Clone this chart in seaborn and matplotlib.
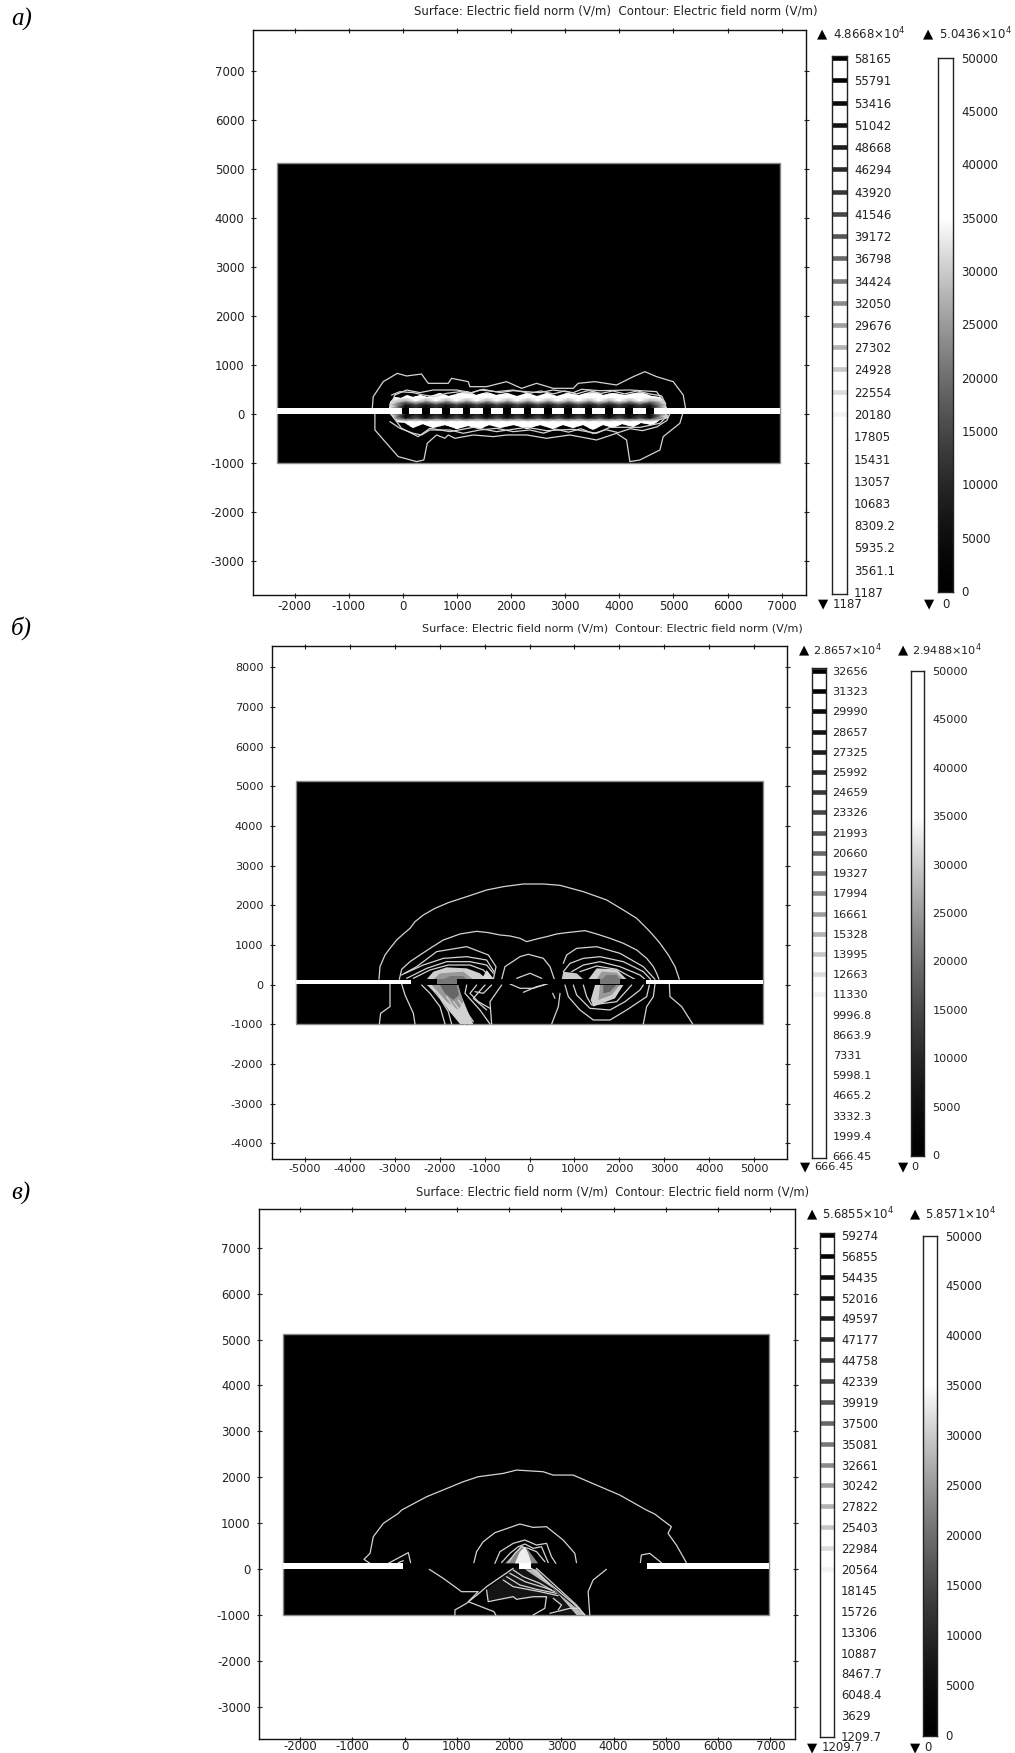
import numpy as np
import pandas as pd
import matplotlib
matplotlib.use("Agg")
import matplotlib.pyplot as plt
import matplotlib.colors as mcolors
import seaborn as sns
from matplotlib.patches import Polygon

sns.set_style("ticks")
plt.rcParams["font.family"] = ["DejaVu Sans"]
plt.rcParams["axes.unicode_minus"] = False
plt.rcParams["mathtext.default"] = "regular"

W, H = 1015, 1753
TITLE = "Surface: Electric field norm (V/m)  Contour: Electric field norm (V/m)"

# colour legend values, top to bottom
levels_a = ["58165", "55791", "53416", "51042", "48668", "46294", "43920", "41546", "39172",
            "36798", "34424", "32050", "29676", "27302", "24928", "22554", "20180", "17805",
            "15431", "13057", "10683", "8309.2", "5935.2", "3561.1", "1187"]
levels_b = ["32656", "31323", "29990", "28657", "27325", "25992", "24659", "23326", "21993",
            "20660", "19327", "17994", "16661", "15328", "13995", "12663", "11330", "9996.8",
            "8663.9", "7331", "5998.1", "4665.2", "3332.3", "1999.4", "666.45"]
levels_c = ["59274", "56855", "54435", "52016", "49597", "47177", "44758", "42339", "39919",
            "37500", "35081", "32661", "30242", "27822", "25403", "22984", "20564", "18145",
            "15726", "13306", "10887", "8467.7", "6048.4", "3629", "1209.7"]
surface_ticks = [50000, 45000, 40000, 35000, 30000, 25000, 20000, 15000, 10000, 5000, 0]

# slot metal segments for panel a
metal_left_a = [-24, 353, 729, 1105, 1481, 1857, 2233, 2609, 2985, 3361, 3737, 4113, 4497]
metal_width_a = 142

# field near the slot in panel a (V/m)
field_y_a = [-420, -300, -220, -150, -80, 0, 120, 200, 270, 340, 420, 480]
field_metal_a = [20000, 40000, 50000, 38000, 5000, 0, 0, 7000, 26000, 50000, 50000, 20000]
field_gap_a = [20000, 40000, 50000, 42000, 16000, 9000, 9000, 16000, 36000, 50000, 50000, 20000]
field_edge_a = [10000, 25000, 40000, 42000, 42000, 45000, 45000, 45000, 42000, 40000, 25000, 10000]

glow_a = [(-260, 116), (-240, 240), (-147, 354), (-40, 330), (68, 390), (190, 350), (314, 395), (450, 340), (684, 420),
          (860, 370), (1177, 470), (1350, 390), (1546, 440), (1730, 380), (1916, 430), (2100, 370), (2286, 420), (2470, 360),
          (2655, 420), (2850, 370), (3025, 430), (3250, 380), (3518, 470), (3700, 390), (3887, 430), (4100, 380),
          (4380, 440), (4600, 370), (4750, 340), (4850, 220), (4880, 116), (4880, 0), (4900, -88), (4750, -130), (4626, -220),
          (4400, -190), (4257, -260), (4050, -200), (3887, -290), (3700, -230), (3518, -320), (3330, -230), (3148, -290),
          (2960, -220), (2778, -300), (2530, -230), (2286, -300), (2050, -230), (1793, -280), (1600, -220),
          (1423, -300), (1200, -240), (992, -310), (780, -220), (561, -280), (380, -200), (191, -290), (40, -190), (-117, -160),
          (-240, 0)]

# contour lines
lines_a = [
    [(-566, 116), (-548, 354), (-363, 660), (-104, 830), (68, 776), (345, 816), (468, 626), (838, 626),
     (900, 728), (1208, 660), (1238, 558), (1546, 558), (1916, 660), (2193, 524), (2470, 626), (2778, 524),
     (3148, 524), (3240, 626), (3548, 660), (3949, 592), (4257, 762), (4472, 864), (4688, 762), (4996, 660),
     (5181, 388), (5224, 116)],
    [(-517, 0), (-517, -326), (-302, -598), (-86, -870), (253, -972), (388, -938), (450, -598), (622, -428),
     (776, -496), (838, -428), (961, -496), (1300, -428), (1670, -462), (1916, -428), (2286, -428),
     (2655, -496), (3086, -428), (3579, -530), (3949, -394), (4134, -530), (4195, -972), (4380, -938),
     (4750, -734), (4811, -462), (5119, -190), (5169, 0)],
    [(-240, 150), (-147, 388), (68, 490), (314, 436), (561, 490), (992, 490), (1269, 436), (1485, 504),
     (1793, 436), (2039, 476), (2532, 436), (2778, 490), (3148, 436), (3302, 504), (3641, 476), (4195, 490),
     (4688, 456), (4842, 218)],
    [(-209, -20), (-24, -292), (284, -462), (499, -292), (869, -360), (1300, -272), (1731, -360), (2286, -272),
     (2655, -340), (3148, -312), (3579, -394), (3826, -272), (4380, -272), (4750, -190), (4904, -20)],
    [(-209, 388), (-55, 456), (191, 436), (376, 388), (591, 354), (807, 422), (1053, 456), (1238, 422), (1423, 490),
     (1731, 456), (2039, 490), (2347, 422), (2550, 470), (2780, 410), (2990, 470), (3210, 410), (3430, 480), (3660, 420),
     (3880, 470), (4100, 410), (4330, 470), (4560, 410), (4780, 370), (4860, 200)],
    [(-240, -156), (-55, -292), (191, -394), (345, -428), (499, -326), (869, -326), (1115, -394), (1423, -326),
     (1731, -292), (2039, -360), (2347, -326), (2600, -390), (2830, -310), (3060, -370), (3290, -300), (3520, -400),
     (3750, -320), (3980, -380), (4200, -300), (4430, -340), (4700, -260), (4880, -130), (4930, -10)],
]

fills_b = [
    ([(-2292, -10), (-1624, -10), (-1513, -304), (-1327, -808), (-1253, -993), (-1550, -993), (-1810, -640), (-2070, -220)], "#d2d2d2"),
    ([(-2181, -10), (-1587, -10), (-1476, -430), (-1587, -640), (-1847, -430)], "#999999"),
    ([(-1995, -10), (-1624, -10), (-1572, -262), (-1698, -388), (-1884, -220)], "#666666"),
    ([(-2292, 133), (-2144, 326), (-1847, 435), (-1401, 410), (-1105, 284), (-956, 133)], "#cfcfcf"),
    ([(-2144, 133), (-1995, 284), (-1476, 326), (-1253, 133)], "#999999"),
    ([(-1921, 133), (-1773, 217), (-1476, 217), (-1401, 133)], "#777777"),
    ([(-1067, 133), (-956, 368), (-793, 133)], "#dddddd"),
    ([(1308, 133), (1494, 410), (1939, 385), (2162, 133)], "#cfcfcf"),
    ([(1494, 133), (1605, 326), (1939, 301), (2088, 133)], "#999999"),
    ([(1605, 133), (1716, 242), (1939, 242), (2013, 133)], "#777777"),
    ([(714, 133), (751, 326), (1048, 284), (1197, 133)], "#cccccc"),
    ([(1457, -10), (2088, -10), (1902, -346), (1419, -556), (1360, -388)], "#cfcfcf"),
    ([(1568, -10), (2013, -10), (1828, -262), (1531, -388)], "#999999"),
    ([(1642, -10), (1939, -10), (1791, -178), (1642, -220)], "#666666"),
]
lines_b = [
    [(-3354, 134), (-3332, 453), (-3220, 747), (-3109, 915), (-2960, 1125), (-2812, 1276), (-2663, 1419), (-2552, 1587),
     (-2366, 1755), (-2107, 1923), (-1810, 2066), (-1401, 2217), (-956, 2385), (-585, 2469), (-139, 2536), (306, 2536),
     (677, 2503), (1197, 2343), (1717, 2133), (2088, 1881), (2385, 1671), (2645, 1377), (2793, 1192), (2905, 1041),
     (3090, 747), (3239, 453), (3335, 134)],
    [(-3109, 16), (-3109, -555), (-3317, -723), (-3346, -992)],
    [(3112, 16), (3127, -303), (3387, -555), (3632, -992)],
    [(-2901, 134), (-2849, 386), (-2663, 579), (-2441, 747), (-2181, 940), (-1921, 1125), (-1550, 1276), (-1179, 1343),
     (-919, 1310), (-659, 1251), (-436, 1226), (-213, 1167), (-65, 1083), (158, 1150), (380, 1209), (603, 1276), (826, 1310),
     (1234, 1360), (1494, 1276), (1791, 1167), (2088, 1041), (2385, 873), (2607, 663), (2756, 453), (2830, 285), (2882, 134)],
    [(-2849, 15), (-2775, -262), (-2589, -724), (-2552, -993)],
    [(2793, 16), (2756, -303), (2607, -555), (2533, -992)],
    [(-2849, 243), (-2515, 453), (-2069, 831), (-1401, 957), (-919, 747), (-748, 453), (-807, 134)],
    [(751, 536), (825, 746), (1048, 914), (1494, 956), (2013, 788), (2533, 452), (2793, 133)],
    [(-2775, 284), (-2367, 494), (-1921, 662), (-1401, 704), (-956, 620), (-793, 326)],
    [(-2738, 158), (-2292, 410), (-1847, 578), (-1327, 578), (-956, 494), (-808, 284)],
    [(-2589, 158), (-2218, 368), (-1810, 494), (-1327, 494), (-1030, 368), (-845, 133)],
    [(751, 326), (900, 536), (1197, 662), (1568, 704), (2088, 578), (2533, 326), (2696, 133)],
    [(937, 326), (1197, 494), (1568, 578), (2013, 452), (2459, 242), (2570, 133)],
    [(1122, 326), (1494, 469), (1939, 385), (2347, 133)],
    [(-622, 134), (-548, 453), (-213, 705), (-31, 764), (306, 663), (455, 453), (551, 134)],
    [(-288, 159), (9, 285), (269, 159)],
    [(-436, 16), (-213, -93), (84, -93), (380, 16)],
    [(-139, -194), (158, -51), (395, 16)],
    [(514, -219), (566, -345)],
    [(-2404, -10), (-2218, -220), (-1995, -556), (-1884, -993)],
    [(-2218, -52), (-1995, -346), (-1810, -682), (-1736, -993)],
    [(-1401, -10), (-1439, -220), (-1105, -640), (-882, -993)],
    [(-1179, -10), (-1327, -220), (-1142, -430), (-882, -598)],
    [(-993, -10), (-1253, -346), (-956, -640)],
    [(-845, -10), (-1030, -220), (-1216, -178)],
    [(-622, -10), (-882, -430), (-845, -993)],
    [(-1847, -304), (-1439, -993)],
    [(-1698, -430), (-1327, -993)],
    [(-1587, -388), (-1253, -934)],
    [(788, -10), (863, -304), (1122, -640), (1419, -892), (1791, -892), (2162, -640), (2607, -304), (2667, -10)],
    [(974, -10), (1048, -262), (1345, -598), (1791, -640), (2125, -430), (2459, -136), (2533, -10)],
    [(1197, -10), (1271, -304), (1382, -514), (1939, -430), (2273, -10)],
    [(677, -219), (640, -555), (492, -992)],
]
slot_gray_b = [(-2070, -1624), (1568, 2013)]

fills_c = [
    ([(1568, -457), (2077, 15), (2524, 15), (3448, -1001), (2938, -1001), (3002, -784), (2842, -638), (1568, -675)], "#141414"),
    ([(2300, -7), (2524, -7), (2938, -529), (3448, -1001), (3288, -1001), (2842, -420)], "#bbbbbb"),
    ([(1918, 124), (2109, 342), (2237, 523), (2364, 414), (2460, 269), (2555, 124)], "#888888"),
    ([(2109, 124), (2205, 378), (2301, 487), (2364, 342), (2428, 124)], "#eeeeee"),
]
lines_c = [
    [(-663, 124), (-778, 211), (-663, 342), (-600, 705), (-409, 995), (-122, 1213), (-58, 1286), (420, 1576),
     (1121, 1903), (1408, 2012), (1886, 2084), (2141, 2157), (2650, 2121), (2842, 2048), (3224, 2048),
     (3670, 1830), (4116, 1613), (4626, 1286), (4785, 1199), (5104, 923), (5040, 778), (5200, 524), (5391, 139)],
    [(-313, 124), (69, 357), (114, 139)],
    [(-122, 139), (-26, 182)],
    [(4511, 139), (4530, 306), (4690, 342), (4913, 139)],
    [(1325, 139), (1376, 378), (1503, 596), (1726, 792), (2204, 981), (2459, 908), (2714, 923), (3033, 632),
     (3256, 342), (3288, 139)],
    [(1727, 124), (1823, 378), (2077, 560), (2301, 632), (2524, 523), (2715, 560), (2810, 269), (2893, 124)],
    [(1854, 139), (2014, 342), (2173, 487), (2301, 545), (2460, 451), (2619, 487), (2747, 139)],
    [(1982, 139), (2109, 342), (2237, 487), (2364, 451), (2524, 378), (2683, 160)],
    [(471, -6), (739, -203), (1089, -493), (1408, -493), (1217, -711), (1707, -929), (1745, -1001)],
    [(962, -1001), (962, -892), (1185, -747), (1408, -544), (1567, -384), (2077, 15)],
    [(1567, -457), (1599, -711), (2077, -602), (2141, -660), (2460, -602), (2714, -602), (2682, -856), (2459, -1001)],
    [(2842, -638), (3002, -784), (2938, -892)],
    [(2779, -965), (3161, -856), (3352, -856)],
    [(2427, 15), (2842, -384), (3224, -747), (3447, -1001)],
    [(2523, 15), (2905, -384), (3288, -783), (3447, -1001)],
    [(3861, -6), (3606, -239), (3511, -493), (3543, -1001)],
    [(2077, -21), (2269, -166), (2587, -312), (2810, -457)],
    [(2014, -94), (2301, -275), (2715, -420), (2874, -493)],
    [(1950, -166), (2205, -348), (2524, -442), (2906, -529)],
    [(1886, -239), (2077, -384), (2587, -493), (2938, -580)],
]


def px_axes(fig, x0, x1, y0, y1):
    return fig.add_axes([x0 / W, 1 - y1 / H, (x1 - x0) / W, (y1 - y0) / H])


def draw_line(ax, pts, z=3):
    df = pd.DataFrame(pts, columns=["x", "y"])
    sns.lineplot(data=df, x="x", y="y", ax=ax, sort=False, estimator=None, color="#d4d4d4",
                 lw=0.9, legend=False, zorder=z)


def main_axes(fig, box, xlim, ylim, xticks, yticks, fs, xpad=1.5):
    ax = px_axes(fig, *box)
    ax.set_xlim(*xlim)
    ax.set_ylim(*ylim)
    ax.tick_params(direction="inout", length=3.6, width=0.8, top=True, right=True, labelsize=fs,
                   colors="#222222")
    ax.tick_params(axis="x", pad=xpad)
    ax.tick_params(axis="y", pad=4.5)
    for s in ax.spines.values():
        s.set_visible(True)
        s.set_linewidth(1.0)
        s.set_color("#111111")
    return ax


def finish_axes(ax, xticks, yticks):
    ax.set_xlabel("")
    ax.set_ylabel("")
    ax.set_xticks(xticks)
    ax.set_yticks(yticks)
    ax.set_xticklabels([str(v) for v in xticks])
    ax.set_yticklabels([str(v) for v in yticks])


def domain(ax, x0, x1):
    ax.fill([x0, x1, x1, x0], [-1000, -1000, 5130, 5130], facecolor="black",
            edgecolor="#8a8a8a", lw=1.0, zorder=1)


def slot(ax, x0, x1, z=5):
    ax.fill([x0, x1, x1, x0], [10, 10, 125, 125], color="white", lw=0, zorder=z)


def legend_bar(fig, box, labels, vpos, fs):
    # contour level legend, dark bands at the high values
    x0, x1, y0, y1 = box
    top_px, bottom_px = vpos
    ax = px_axes(fig, x0, x1, y0, y1)
    vals = [float(v) for v in labels]
    per_px = (vals[0] - vals[-1]) / (bottom_px - top_px)
    ax.set_ylim(vals[-1] - (y1 - bottom_px) * per_px, vals[0] + (top_px - y0) * per_px)
    ax.set_xlim(0, 1)
    for i, v in enumerate(vals):
        g = min(1.0, (i / 16.5) ** 1.5)
        ax.plot([0, 1], [v, v], color=str(g), lw=3.3, solid_capstyle="butt")
    ax.set_xticks([])
    ax.set_yticks(vals)
    ax.set_yticklabels(labels)
    ax.yaxis.tick_right()
    ax.tick_params(axis="y", direction="in", length=2.5, width=0.7, left=True, right=True,
                   labelsize=fs, colors="#222222", pad=5)
    for s in ax.spines.values():
        s.set_visible(True)
        s.set_linewidth(1.0)
        s.set_color("#222222")


def surface_bar(fig, box, fs):
    ax = px_axes(fig, *box)
    grad = np.linspace(50000, 0, 501).reshape(-1, 1)
    sns.heatmap(grad, ax=ax, cmap="gray", norm=mcolors.PowerNorm(1.5, vmin=0, vmax=35000), cbar=False,
                xticklabels=False, yticklabels=False)
    ax.set_xticks([])
    ax.set_yticks([(50000 - v) / 100 for v in surface_ticks])
    ax.set_yticklabels([str(v) for v in surface_ticks], rotation=0)
    ax.yaxis.tick_right()
    ax.tick_params(axis="y", direction="in", length=2.5, width=0.7, left=True, right=True,
                   labelsize=fs, colors="#222222", pad=6)
    for s in ax.spines.values():
        s.set_visible(True)
        s.set_linewidth(1.0)
        s.set_color("#222222")


def label_px(fig, x, y, s, **kw):
    kw.setdefault("color", "#222222")
    fig.text(x / W, 1 - y / H, s, va="center", **kw)


def annotations(fig, title_x, title_y, title_fs, fs, panel, panel_y, top_y, bottom_y, tops, bottoms):
    fig.text(title_x / W, 1 - title_y / H, TITLE, ha="center", va="center", fontsize=title_fs, color="#222222")
    fig.text(11 / W, 1 - panel_y / H, panel, family="Liberation Serif", style="italic", fontsize=18,
             va="center", color="black")
    for tx, x, s in tops:
        label_px(fig, tx, top_y, "\u25b2", ha="center", fontsize=9.5, color="black")
        label_px(fig, x, top_y, s, fontsize=fs)
    for tx, x, s in bottoms:
        label_px(fig, tx, bottom_y, "\u25bc", ha="center", fontsize=9.5, color="black")
        label_px(fig, x, bottom_y, s, fontsize=fs)


fig = plt.figure(figsize=(W / 100, H / 100), dpi=100)

# panel a
xt = list(range(-2000, 8000, 1000))
yt = list(range(-3000, 8000, 1000))
ax = main_axes(fig, (253, 806, 30, 595), (-2770, 7450), (-3694, 7837), xt, yt, 8.5)
domain(ax, -2330, 6970)
centers = []
for m in metal_left_a:
    centers += [m + metal_width_a / 2, m + metal_width_a + 117]
centers = [-280] + centers[:-1] + [4920]
z_rows = [field_edge_a]
for i in range(len(centers) - 2):
    z_rows.append(field_metal_a if i % 2 == 0 else field_gap_a)
z_rows.append(field_edge_a)
z_rows = np.array(z_rows).T
mesh = ax.pcolormesh(centers, field_y_a, z_rows, shading="gouraud", cmap="gray",
                     norm=mcolors.PowerNorm(1.5, vmin=0, vmax=35000), zorder=2)
mesh.set_clip_path(Polygon(glow_a, transform=ax.transData))
for pts in lines_a:
    draw_line(ax, pts)
slot(ax, -2330, 6970)
for m in metal_left_a:
    ax.fill([m, m + metal_width_a, m + metal_width_a, m], [10, 10, 125, 125], color="black", lw=0, zorder=6)
finish_axes(ax, xt, yt)
legend_bar(fig, (832, 847, 55.7, 594), levels_a, (58, 592), 8.5)
surface_bar(fig, (938.4, 953, 57.7, 592), 8.5)
annotations(fig, 616, 11, 8.5, 8.5, "\u0430)", 19, 34, 604,
            [(822, 833, "4.8668\u00d710$^{4}$"), (928, 939, "5.0436\u00d710$^{4}$")],
            [(823, 833, "1187"), (929, 942, "0")])

# panel b
xt = list(range(-5000, 6000, 1000))
yt = list(range(-4000, 9000, 1000))
ax = main_axes(fig, (272, 787, 645.7, 1159), (-5737, 5733), (-4396, 8543), xt, yt, 8.1)
domain(ax, -5200, 5200)
for pts, col in fills_b:
    ax.fill(*zip(*pts), color=col, lw=0, zorder=2)
for pts in lines_b:
    draw_line(ax, pts)
slot(ax, -5200, -2640)
slot(ax, 2600, 5200)
ax.fill([-2640, 2600, 2600, -2640], [10, 10, 130, 130], color="black", lw=0, zorder=4)
for g0, g1 in slot_gray_b:
    ax.fill([g0, g1, g1, g0], [10, 10, 130, 130], color="#777777", lw=0, zorder=5)
finish_axes(ax, xt, yt)
legend_bar(fig, (812, 825.6, 668, 1158), levels_b, (671, 1156), 8.1)
surface_bar(fig, (910.5, 924, 671, 1156), 8.1)
annotations(fig, 612, 628.6, 8.0, 8.1, "\u0431)", 628, 650, 1167,
            [(804, 813, "2.8657\u00d710$^{4}$"), (903, 912, "2.9488\u00d710$^{4}$")],
            [(805, 814, "666.45"), (903, 911, "0")])

# panel c
xt = list(range(-2000, 8000, 1000))
yt = list(range(-3000, 8000, 1000))
ax = main_axes(fig, (259.4, 795, 1209.3, 1739), (-2780, 7470), (-3704, 7840), xt, yt, 8.4, xpad=-1)
domain(ax, -2330, 6970)
for pts, col in fills_c:
    ax.fill(*zip(*pts), color=col, lw=0, zorder=2)
for pts in lines_c:
    draw_line(ax, pts)
slot(ax, -2330, -26)
slot(ax, 4639, 6970)
slot(ax, 2192, 2421)
finish_axes(ax, xt, yt)
legend_bar(fig, (820, 834, 1233, 1737), levels_c, (1235, 1736), 8.4)
surface_bar(fig, (923, 937, 1235.6, 1735.5), 8.4)
annotations(fig, 612.5, 1191.7, 8.3, 8.4, "\u0432)", 1193, 1213.7, 1747.5,
            [(812, 822, "5.6855\u00d710$^{4}$"), (915, 925, "5.8571\u00d710$^{4}$")],
            [(812, 822, "1209.7"), (915, 924, "0")])

fig.savefig("out.png", dpi=100)
